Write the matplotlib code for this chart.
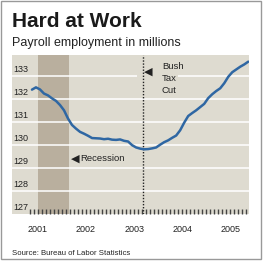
import matplotlib
matplotlib.use('Agg')
import matplotlib.pyplot as plt
import matplotlib.patches as mpatches
import matplotlib.transforms as mtrans
import numpy as np

# Payroll employment, millions, monthly from late 2000 to mid 2005
payroll = [132.42, 132.52, 132.43, 132.25, 132.17, 132.04, 131.93, 131.75, 131.52, 131.16,
           130.88, 130.72, 130.58, 130.50, 130.41, 130.31, 130.30, 130.29, 130.26, 130.28,
           130.24, 130.23, 130.25, 130.19, 130.16, 130.00, 129.90, 129.85, 129.82, 129.83,
           129.86, 129.90, 130.02, 130.13, 130.21, 130.32, 130.42, 130.65, 130.98, 131.27,
           131.40, 131.52, 131.66, 131.80, 132.05, 132.22, 132.36, 132.48, 132.70, 132.98,
           133.18, 133.30, 133.42, 133.52, 133.64]
start_year = 2000.875
months = start_year + np.arange(len(payroll)) / 12

years = [2001, 2002, 2003, 2004, 2005]
y_levels = [127, 128, 129, 130, 131, 132, 133]
recession = (2001.0, 2001.645)
tax_cut = 2003.18

bg = '#dedbd0'
shade = '#b9af9e'
blue = '#2f67a3'
ink = '#222222'
sans = ['Liberation Sans', 'DejaVu Sans']

W, H = 271, 263
fig = plt.figure(figsize=(W / 100, H / 100), dpi=100)
fig.patch.set_facecolor('white')

# outer frame
fig.patches.append(mpatches.Rectangle((0.5 / W, 1 - 259 / H), 260.5 / W, 258.5 / H,
                                      transform=fig.transFigure, fill=False,
                                      edgecolor='#999999', linewidth=1))

ax = fig.add_axes([12 / W, (H - 214) / H, 237 / W, 159 / H])
ax.set_facecolor(bg)
for s in ax.spines.values():
    s.set_visible(False)
ax.set_xlim(2000.46, 2005.39)
ax.set_ylim(127.0, 133.93)

ax.axvspan(*recession, color=shade, lw=0, zorder=1)
for v in y_levels[1:]:
    ax.axhline(v, color='white', lw=1.1, zorder=2)
# gap in the top gridline behind the tax cut note
ax.add_patch(mpatches.Rectangle((2003.05, 132.9), 0.87, 0.2, facecolor=bg, lw=0, zorder=2.5))
ax.axvline(tax_cut, color=ink, lw=1, ls=(0, (1, 1.2)), zorder=3)
ax.plot(months, payroll, color=blue, lw=1.8, zorder=4, solid_capstyle='round')

# y labels sit just above gridlines
yt = mtrans.blended_transform_factory(ax.transAxes, ax.transData)
for v in y_levels:
    ax.text(0.006, v + 0.09, str(v), transform=yt, ha='left', va='bottom',
            fontsize=6.5, family=sans, color=ink, zorder=5)

# monthly ticks along bottom
ax.set_yticks([])
ticks = np.arange(2000.83, 2005.39, 1 / 12)
ax.set_xticks(ticks)
ax.set_xticklabels([])
ax.tick_params(axis='x', direction='in', length=3.5, width=1, color='#444444')
xt = mtrans.blended_transform_factory(ax.transData, fig.transFigure)
for yr in years:
    ax.text(yr, 1 - 232 / H, str(yr), transform=xt, ha='center', va='baseline',
            fontsize=6.5, family=sans, color=ink)

# annotations
ax.text(2001.77, 129.43, '\u25c0', ha='center', va='center', fontsize=8,
        family=['DejaVu Sans'], color=ink, zorder=5)
ax.text(2001.88, 129.43, 'Recession', ha='left', va='center', fontsize=6.8,
        family=sans, color=ink, zorder=5)
ax.text(2003.29, 133.19, '\u25c0', ha='center', va='center', fontsize=8,
        family=['DejaVu Sans'], color=ink, zorder=5)
ax.text(2003.58, 133.62, 'Bush\nTax\nCut', ha='left', va='top', fontsize=6.8, family=sans,
        color=ink, linespacing=1.45, zorder=5)

fig.text(12 / W, 1 - 27 / H, 'Hard at Work', fontsize=15, fontweight='bold',
         family=sans, color='#1a1a1a', va='baseline')
fig.text(12 / W, 1 - 46 / H, 'Payroll employment in millions', fontsize=9,
         family=sans, color=ink, va='baseline')
fig.text(12 / W, 1 - 255 / H, 'Source: Bureau of Labor Statistics', fontsize=5.6,
         family=sans, color=ink, va='baseline')

fig.savefig('out.png', dpi=100)
